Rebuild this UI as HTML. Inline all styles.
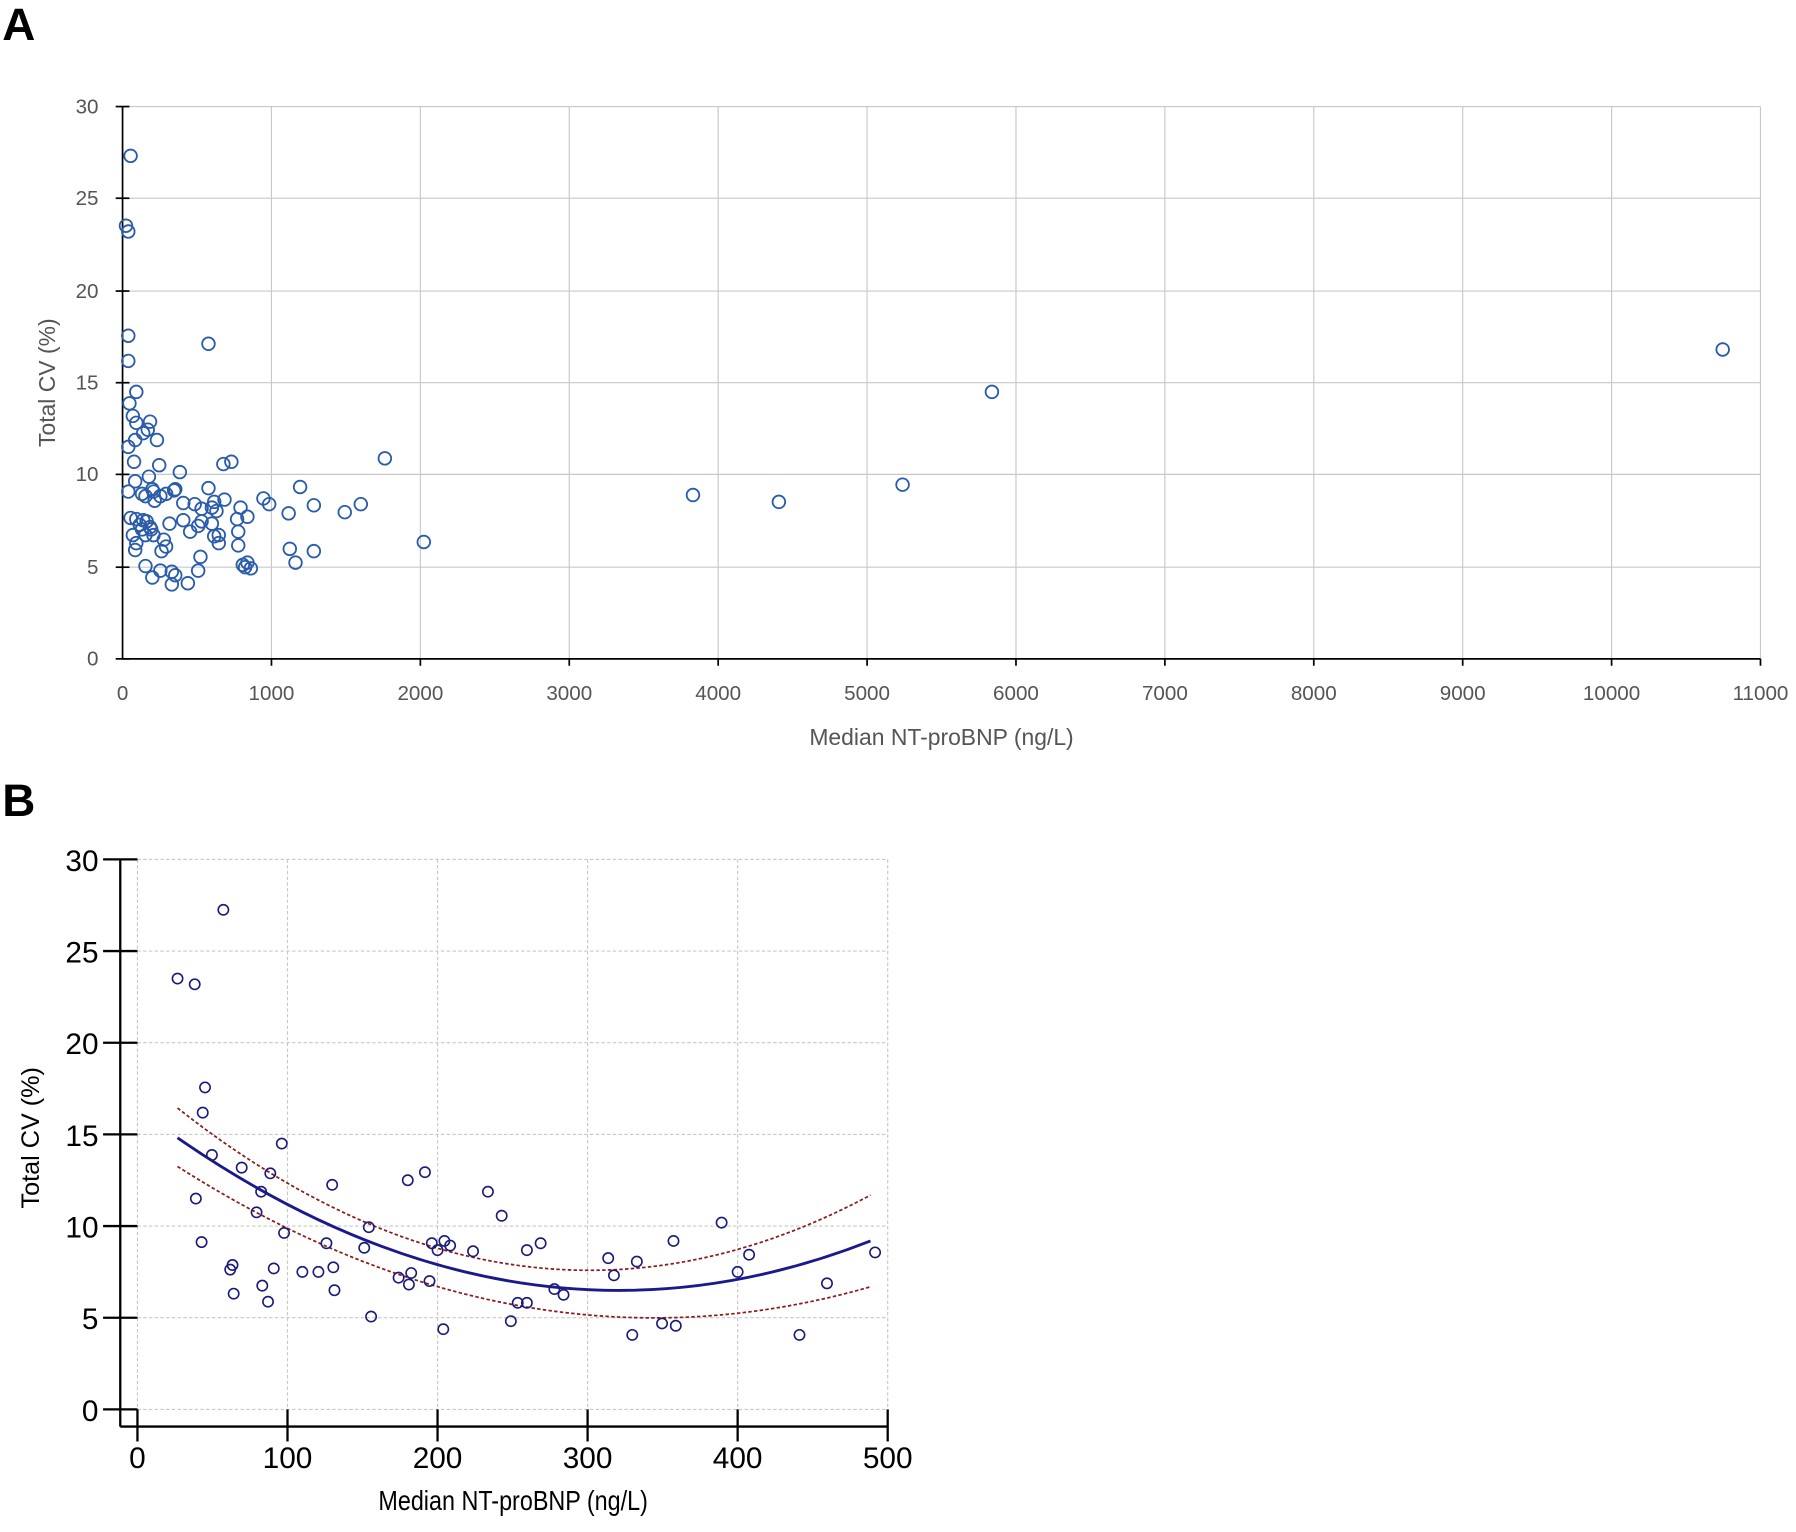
<!DOCTYPE html>
<html><head><meta charset="utf-8"><style>html,body{margin:0;padding:0;background:#fff}svg{display:block}</style></head><body>
<svg width="1796" height="1532" viewBox="0 0 1568 1337" preserveAspectRatio="none" xmlns="http://www.w3.org/2000/svg" font-family="Liberation Sans, DejaVu Sans, sans-serif">
<text x="2" y="35" font-size="40" font-weight="bold">A</text>
<text x="2" y="712" font-size="40" font-weight="bold">B</text>
<!-- Plot A -->
<g stroke="#c8c8c8" stroke-width="1">
<line x1="107" y1="93" x2="1537" y2="93"/><line x1="107" y1="173" x2="1537" y2="173"/><line x1="107" y1="254" x2="1537" y2="254"/><line x1="107" y1="334" x2="1537" y2="334"/><line x1="107" y1="414" x2="1537" y2="414"/><line x1="107" y1="495" x2="1537" y2="495"/>
<line x1="237" y1="93" x2="237" y2="575"/><line x1="367" y1="93" x2="367" y2="575"/><line x1="497" y1="93" x2="497" y2="575"/><line x1="627" y1="93" x2="627" y2="575"/><line x1="757" y1="93" x2="757" y2="575"/><line x1="887" y1="93" x2="887" y2="575"/><line x1="1017" y1="93" x2="1017" y2="575"/><line x1="1147" y1="93" x2="1147" y2="575"/><line x1="1277" y1="93" x2="1277" y2="575"/><line x1="1407" y1="93" x2="1407" y2="575"/><line x1="1537" y1="93" x2="1537" y2="575"/>
</g>
<g stroke="#000" stroke-width="1.5">
<line x1="107" y1="93" x2="107" y2="575"/><line x1="107" y1="575" x2="1537" y2="575"/>
<line x1="101" y1="93" x2="113" y2="93"/><line x1="101" y1="173" x2="113" y2="173"/><line x1="101" y1="254" x2="113" y2="254"/><line x1="101" y1="334" x2="113" y2="334"/><line x1="101" y1="414" x2="113" y2="414"/><line x1="101" y1="495" x2="113" y2="495"/><line x1="101" y1="575" x2="113" y2="575"/>
<line x1="237" y1="575" x2="237" y2="581"/><line x1="367" y1="575" x2="367" y2="581"/><line x1="497" y1="575" x2="497" y2="581"/><line x1="627" y1="575" x2="627" y2="581"/><line x1="757" y1="575" x2="757" y2="581"/><line x1="887" y1="575" x2="887" y2="581"/><line x1="1017" y1="575" x2="1017" y2="581"/><line x1="1147" y1="575" x2="1147" y2="581"/><line x1="1277" y1="575" x2="1277" y2="581"/><line x1="1407" y1="575" x2="1407" y2="581"/><line x1="1537" y1="575" x2="1537" y2="581"/>
</g>
<g font-size="18" fill="#555" text-anchor="end">
<text x="86" y="99">30</text><text x="86" y="179">25</text><text x="86" y="260">20</text><text x="86" y="340">15</text><text x="86" y="420">10</text><text x="86" y="501">5</text><text x="86" y="581">0</text>
</g>
<g font-size="18" fill="#555" text-anchor="middle">
<text x="107" y="611">0</text><text x="237" y="611">1000</text><text x="367" y="611">2000</text><text x="497" y="611">3000</text><text x="627" y="611">4000</text><text x="757" y="611">5000</text><text x="887" y="611">6000</text><text x="1017" y="611">7000</text><text x="1147" y="611">8000</text><text x="1277" y="611">9000</text><text x="1407" y="611">10000</text><text x="1537" y="611">11000</text>
<text x="822" y="650" font-size="20">Median NT-proBNP (ng/L)</text>
<text transform="translate(48,334) rotate(-90)" font-size="20">Total CV (%)</text>
</g>
<g fill="none" stroke="#2a5caa" stroke-width="1.6">
<circle cx="114" cy="136" r="5.5"/><circle cx="110" cy="197" r="5.5"/><circle cx="112" cy="202" r="5.5"/><circle cx="112" cy="293" r="5.5"/><circle cx="112" cy="315" r="5.5"/><circle cx="119" cy="342" r="5.5"/><circle cx="113" cy="352" r="5.5"/><circle cx="116" cy="363" r="5.5"/><circle cx="119" cy="369" r="5.5"/><circle cx="112" cy="390" r="5.5"/><circle cx="118" cy="384" r="5.5"/><circle cx="125" cy="378" r="5.5"/><circle cx="131" cy="368" r="5.5"/><circle cx="129" cy="375" r="5.5"/><circle cx="137" cy="384" r="5.5"/><circle cx="117" cy="403" r="5.5"/><circle cx="112" cy="429" r="5.5"/><circle cx="118" cy="420" r="5.5"/><circle cx="124" cy="431" r="5.5"/><circle cx="130" cy="416" r="5.5"/><circle cx="127" cy="433" r="5.5"/><circle cx="134" cy="429" r="5.5"/><circle cx="139" cy="406" r="5.5"/><circle cx="157" cy="412" r="5.5"/><circle cx="133" cy="427" r="5.5"/><circle cx="135" cy="437" r="5.5"/><circle cx="140" cy="433" r="5.5"/><circle cx="145" cy="431" r="5.5"/><circle cx="152" cy="428" r="5.5"/><circle cx="160" cy="439" r="5.5"/><circle cx="170" cy="440" r="5.5"/><circle cx="176" cy="444" r="5.5"/><circle cx="185" cy="443" r="5.5"/><circle cx="187" cy="438" r="5.5"/><circle cx="189" cy="446" r="5.5"/><circle cx="182" cy="426" r="5.5"/><circle cx="195" cy="405" r="5.5"/><circle cx="202" cy="403" r="5.5"/><circle cx="153" cy="427" r="5.5"/><circle cx="114" cy="452" r="5.5"/><circle cx="119" cy="453" r="5.5"/><circle cx="122" cy="458" r="5.5"/><circle cx="125" cy="454" r="5.5"/><circle cx="128" cy="455" r="5.5"/><circle cx="131" cy="460" r="5.5"/><circle cx="124" cy="462" r="5.5"/><circle cx="116" cy="467" r="5.5"/><circle cx="119" cy="474" r="5.5"/><circle cx="118" cy="480" r="5.5"/><circle cx="127" cy="467" r="5.5"/><circle cx="132" cy="462" r="5.5"/><circle cx="134" cy="467" r="5.5"/><circle cx="143" cy="471" r="5.5"/><circle cx="141" cy="481" r="5.5"/><circle cx="145" cy="477" r="5.5"/><circle cx="148" cy="457" r="5.5"/><circle cx="160" cy="454" r="5.5"/><circle cx="166" cy="464" r="5.5"/><circle cx="173" cy="459" r="5.5"/><circle cx="176" cy="455" r="5.5"/><circle cx="185" cy="457" r="5.5"/><circle cx="187" cy="468" r="5.5"/><circle cx="191" cy="474" r="5.5"/><circle cx="191" cy="467" r="5.5"/><circle cx="207" cy="453" r="5.5"/><circle cx="208" cy="464" r="5.5"/><circle cx="210" cy="443" r="5.5"/><circle cx="216" cy="451" r="5.5"/><circle cx="230" cy="435" r="5.5"/><circle cx="235" cy="440" r="5.5"/><circle cx="252" cy="448" r="5.5"/><circle cx="262" cy="425" r="5.5"/><circle cx="274" cy="441" r="5.5"/><circle cx="301" cy="447" r="5.5"/><circle cx="315" cy="440" r="5.5"/><circle cx="336" cy="400" r="5.5"/><circle cx="370" cy="473" r="5.5"/><circle cx="253" cy="479" r="5.5"/><circle cx="258" cy="491" r="5.5"/><circle cx="274" cy="481" r="5.5"/><circle cx="212" cy="493" r="5.5"/><circle cx="216" cy="491" r="5.5"/><circle cx="219" cy="496" r="5.5"/><circle cx="214" cy="495" r="5.5"/><circle cx="175" cy="486" r="5.5"/><circle cx="173" cy="498" r="5.5"/><circle cx="127" cy="494" r="5.5"/><circle cx="133" cy="504" r="5.5"/><circle cx="140" cy="498" r="5.5"/><circle cx="150" cy="499" r="5.5"/><circle cx="153" cy="502" r="5.5"/><circle cx="150" cy="510" r="5.5"/><circle cx="164" cy="509" r="5.5"/><circle cx="182" cy="300" r="5.5"/><circle cx="605" cy="432" r="5.5"/><circle cx="680" cy="438" r="5.5"/><circle cx="788" cy="423" r="5.5"/><circle cx="866" cy="342" r="5.5"/><circle cx="1504" cy="305" r="5.5"/><circle cx="196" cy="436" r="5.5"/><circle cx="208" cy="476" r="5.5"/>
</g>
<!-- Plot B -->
<g stroke="#c8c8c8" stroke-width="1" stroke-dasharray="3,2">
<line x1="120" y1="750" x2="775" y2="750"/><line x1="120" y1="830" x2="775" y2="830"/><line x1="120" y1="910" x2="775" y2="910"/><line x1="120" y1="990" x2="775" y2="990"/><line x1="120" y1="1070" x2="775" y2="1070"/><line x1="120" y1="1150" x2="775" y2="1150"/><line x1="120" y1="1230" x2="775" y2="1230"/>
<line x1="120" y1="750" x2="120" y2="1230"/><line x1="251" y1="750" x2="251" y2="1230"/><line x1="382" y1="750" x2="382" y2="1230"/><line x1="513" y1="750" x2="513" y2="1230"/><line x1="644" y1="750" x2="644" y2="1230"/><line x1="775" y1="750" x2="775" y2="1245"/>
</g>
<g stroke="#000" stroke-width="2">
<line x1="105" y1="750" x2="105" y2="1245"/><line x1="105" y1="1245" x2="775" y2="1245"/>
<line x1="90" y1="750" x2="120" y2="750"/><line x1="90" y1="830" x2="120" y2="830"/><line x1="90" y1="910" x2="120" y2="910"/><line x1="90" y1="990" x2="120" y2="990"/><line x1="90" y1="1070" x2="120" y2="1070"/><line x1="90" y1="1150" x2="120" y2="1150"/><line x1="90" y1="1230" x2="120" y2="1230"/>
<line x1="120" y1="1230" x2="120" y2="1258"/><line x1="251" y1="1230" x2="251" y2="1258"/><line x1="382" y1="1230" x2="382" y2="1258"/><line x1="513" y1="1230" x2="513" y2="1258"/><line x1="644" y1="1230" x2="644" y2="1258"/><line x1="775" y1="1230" x2="775" y2="1258"/>
</g>
<g font-size="26" fill="#000" text-anchor="end">
<text x="86" y="760">30</text><text x="86" y="840">25</text><text x="86" y="920">20</text><text x="86" y="1000">15</text><text x="86" y="1080">10</text><text x="86" y="1160">5</text><text x="86" y="1240">0</text>
</g>
<g font-size="26" fill="#000" text-anchor="middle">
<text x="120" y="1281">0</text><text x="251" y="1281">100</text><text x="382" y="1281">200</text><text x="513" y="1281">300</text><text x="644" y="1281">400</text><text x="775" y="1281">500</text>
<text x="448" y="1318" font-size="24" transform="translate(448,0) scale(0.85,1) translate(-448,0)">Median NT-proBNP (ng/L)</text>
<text transform="translate(34,993) rotate(-90)" font-size="22">Total CV (%)</text>
</g>
<g fill="none" stroke="#8b1a1a" stroke-width="1.5" stroke-dasharray="3,2">
<path d="M155 967 Q457 1205 760 1043"/>
<path d="M155 1018 Q457 1210 760 1123"/>
</g>
<path d="M155 993 Q457 1202 760 1083" fill="none" stroke="#1a1a8c" stroke-width="2.5"/>
<g fill="none" stroke="#1a1a7a" stroke-width="1.4">
<circle cx="155" cy="854" r="4.5"/><circle cx="170" cy="859" r="4.5"/><circle cx="195" cy="794" r="4.5"/><circle cx="179" cy="949" r="4.5"/><circle cx="177" cy="971" r="4.5"/><circle cx="185" cy="1008" r="4.5"/><circle cx="171" cy="1046" r="4.5"/><circle cx="176" cy="1084" r="4.5"/><circle cx="211" cy="1019" r="4.5"/><circle cx="224" cy="1058" r="4.5"/><circle cx="228" cy="1040" r="4.5"/><circle cx="236" cy="1024" r="4.5"/><circle cx="246" cy="998" r="4.5"/><circle cx="248" cy="1076" r="4.5"/><circle cx="201" cy="1108" r="4.5"/><circle cx="203" cy="1104" r="4.5"/><circle cx="204" cy="1129" r="4.5"/><circle cx="229" cy="1122" r="4.5"/><circle cx="234" cy="1136" r="4.5"/><circle cx="239" cy="1107" r="4.5"/><circle cx="264" cy="1110" r="4.5"/><circle cx="278" cy="1110" r="4.5"/><circle cx="285" cy="1085" r="4.5"/><circle cx="290" cy="1034" r="4.5"/><circle cx="291" cy="1106" r="4.5"/><circle cx="292" cy="1126" r="4.5"/><circle cx="318" cy="1089" r="4.5"/><circle cx="322" cy="1071" r="4.5"/><circle cx="324" cy="1149" r="4.5"/><circle cx="348" cy="1115" r="4.5"/><circle cx="356" cy="1030" r="4.5"/><circle cx="357" cy="1121" r="4.5"/><circle cx="359" cy="1111" r="4.5"/><circle cx="371" cy="1023" r="4.5"/><circle cx="375" cy="1118" r="4.5"/><circle cx="377" cy="1085" r="4.5"/><circle cx="382" cy="1091" r="4.5"/><circle cx="388" cy="1083" r="4.5"/><circle cx="393" cy="1087" r="4.5"/><circle cx="387" cy="1160" r="4.5"/><circle cx="413" cy="1092" r="4.5"/><circle cx="426" cy="1040" r="4.5"/><circle cx="438" cy="1061" r="4.5"/><circle cx="446" cy="1153" r="4.5"/><circle cx="452" cy="1137" r="4.5"/><circle cx="460" cy="1137" r="4.5"/><circle cx="460" cy="1091" r="4.5"/><circle cx="472" cy="1085" r="4.5"/><circle cx="484" cy="1125" r="4.5"/><circle cx="492" cy="1130" r="4.5"/><circle cx="531" cy="1098" r="4.5"/><circle cx="536" cy="1113" r="4.5"/><circle cx="552" cy="1165" r="4.5"/><circle cx="556" cy="1101" r="4.5"/><circle cx="578" cy="1155" r="4.5"/><circle cx="588" cy="1083" r="4.5"/><circle cx="590" cy="1157" r="4.5"/><circle cx="630" cy="1067" r="4.5"/><circle cx="644" cy="1110" r="4.5"/><circle cx="654" cy="1095" r="4.5"/><circle cx="698" cy="1165" r="4.5"/><circle cx="722" cy="1120" r="4.5"/><circle cx="764" cy="1093" r="4.5"/>
</g>
</svg>
</body></html>
